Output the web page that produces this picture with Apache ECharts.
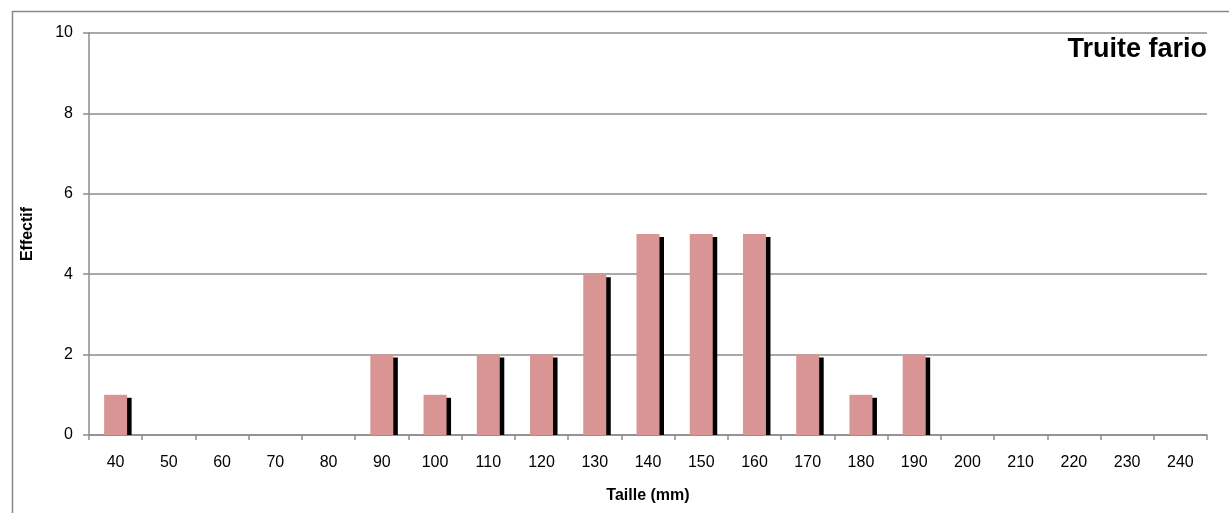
<!DOCTYPE html>
<html>
<head>
<meta charset="utf-8">
<script src="https://cdn.jsdelivr.net/npm/echarts@6/dist/echarts.min.js"></script>
<style>
  html, body { margin: 0; padding: 0; background: #fff; }
  #chart { width: 1229px; height: 513px; }
</style>
</head>
<body>
<div id="chart"></div>
<script>
// Size classes (mm) and counts of brown trout
const tailles = ['40','50','60','70','80','90','100','110','120','130','140','150','160','170','180','190','200','210','220','230','240'];
const effectifs = [1,0,0,0,0,2,1,2,2,4,5,5,5,2,1,2,0,0,0,0,0];
const yTicks = { min: 0, max: 10, interval: 2 };

const font = '"Liberation Sans", Arial, sans-serif';
const BAR_W = 23;
const chart = echarts.init(document.getElementById('chart'), null, { renderer: 'canvas' });

// Black drop shadow behind each bar, offset right/down and stopped at the baseline
function renderShadow(params, api) {
  const v = api.value(1);
  if (!v) return null;
  const top = api.coord([api.value(0), v]);
  const base = api.coord([api.value(0), 0]);
  const dx = 4.5, dy = 3;
  return {
    type: 'rect',
    shape: {
      x: top[0] - BAR_W / 2 + dx,
      y: top[1] + dy,
      width: BAR_W,
      height: base[1] - top[1] - dy
    },
    style: { fill: '#000' }
  };
}

chart.setOption({
  animation: false,
  backgroundColor: '#fff',
  title: {
    text: 'Truite fario',
    right: 22,
    top: 36,
    padding: 0,
    textStyle: { fontFamily: font, fontSize: 27, fontWeight: 'bold', color: '#000' }
  },
  graphic: [{
    type: 'rect',
    shape: { x: 12.5, y: 11.5, width: 1400, height: 700 },
    style: { fill: 'none', stroke: '#868686', lineWidth: 1.5 },
    silent: true
  }],
  grid: { left: 89, right: 22, top: 33, bottom: 78 },
  xAxis: {
    type: 'category',
    data: tailles,
    boundaryGap: true,
    name: 'Taille (mm)',
    nameLocation: 'middle',
    nameGap: 53,
    nameTextStyle: { fontFamily: font, fontSize: 16, fontWeight: 'bold', color: '#000' },
    axisLine: { lineStyle: { color: '#8c8c8c', width: 1.5 } },
    axisTick: { show: true, alignWithLabel: false, length: 5, lineStyle: { color: '#8c8c8c', width: 1.5 } },
    axisLabel: { fontFamily: font, fontSize: 16, color: '#000', margin: 20 },
    splitLine: { show: false }
  },
  yAxis: {
    type: 'value',
    min: yTicks.min,
    max: yTicks.max,
    interval: yTicks.interval,
    name: 'Effectif',
    nameLocation: 'middle',
    nameGap: 53,
    nameRotate: 90,
    nameTextStyle: { fontFamily: font, fontSize: 16, fontWeight: 'bold', color: '#000' },
    axisLine: { show: true, lineStyle: { color: '#8c8c8c', width: 1.5 } },
    axisTick: { show: true, length: 6, lineStyle: { color: '#8c8c8c', width: 1.5 } },
    axisLabel: { fontFamily: font, fontSize: 16, color: '#000', margin: 16 },
    splitLine: { show: true, lineStyle: { color: '#8c8c8c', width: 1.5 } }
  },
  series: [{
    type: 'custom',
    z: 1,
    renderItem: renderShadow,
    encode: { x: 0, y: 1 },
    data: effectifs.map((v, i) => [i, v])
  }, {
    type: 'bar',
    z: 2,
    data: effectifs,
    barWidth: BAR_W,
    itemStyle: { color: '#d99594' }
  }]
});
</script>
</body>
</html>
